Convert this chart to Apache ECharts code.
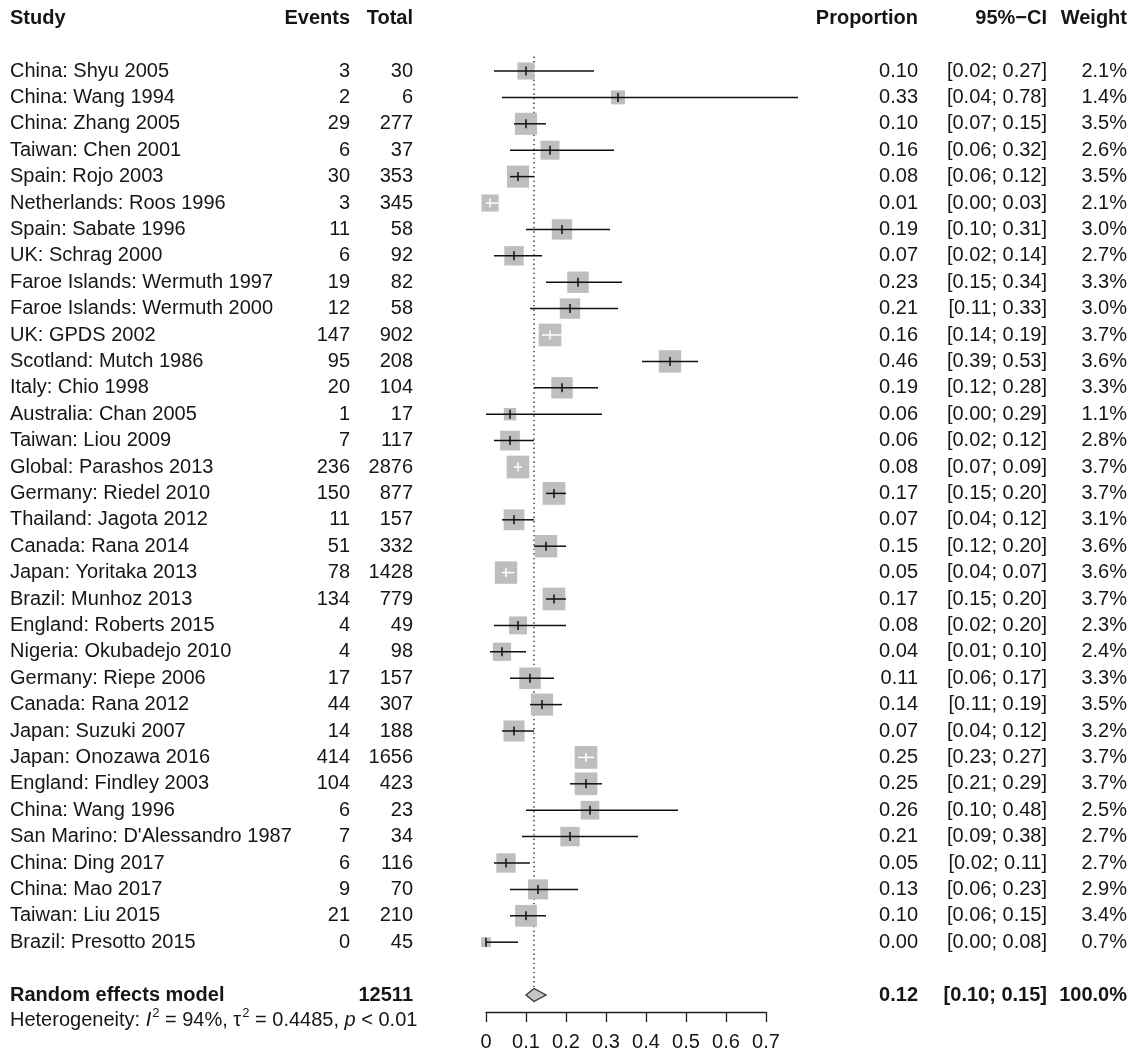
<!DOCTYPE html>
<html>
<head>
<meta charset="utf-8">
<script src="https://cdn.jsdelivr.net/npm/echarts@6/dist/echarts.min.js"></script>
<style>
  html, body { margin: 0; padding: 0; background: #ffffff; }
  #chart { width: 1136px; height: 1061px; }
</style>
</head>
<body>
<div id="chart"></div>
<script>
// ---- Study data ----
const studies = [
  'China: Shyu 2005', 'China: Wang 1994', 'China: Zhang 2005', 'Taiwan: Chen 2001',
  'Spain: Rojo 2003', 'Netherlands: Roos 1996', 'Spain: Sabate 1996', 'UK: Schrag 2000',
  'Faroe Islands: Wermuth 1997', 'Faroe Islands: Wermuth 2000', 'UK: GPDS 2002',
  'Scotland: Mutch 1986', 'Italy: Chio 1998', 'Australia: Chan 2005', 'Taiwan: Liou 2009',
  'Global: Parashos 2013', 'Germany: Riedel 2010', 'Thailand: Jagota 2012', 'Canada: Rana 2014',
  'Japan: Yoritaka 2013', 'Brazil: Munhoz 2013', 'England: Roberts 2015', 'Nigeria: Okubadejo 2010',
  'Germany: Riepe 2006', 'Canada: Rana 2012', 'Japan: Suzuki 2007', 'Japan: Onozawa 2016',
  'England: Findley 2003', 'China: Wang 1996', "San Marino: D'Alessandro 1987", 'China: Ding 2017',
  'China: Mao 2017', 'Taiwan: Liu 2015', 'Brazil: Presotto 2015'
];
const events = [3, 2, 29, 6, 30, 3, 11, 6, 19, 12, 147, 95, 20, 1, 7, 236, 150, 11, 51, 78,
  134, 4, 4, 17, 44, 14, 414, 104, 6, 7, 6, 9, 21, 0];
const totals = [30, 6, 277, 37, 353, 345, 58, 92, 82, 58, 902, 208, 104, 17, 117, 2876, 877, 157,
  332, 1428, 779, 49, 98, 157, 307, 188, 1656, 423, 23, 34, 116, 70, 210, 45];
const proportions = [0.10, 0.33, 0.10, 0.16, 0.08, 0.01, 0.19, 0.07, 0.23, 0.21, 0.16, 0.46, 0.19,
  0.06, 0.06, 0.08, 0.17, 0.07, 0.15, 0.05, 0.17, 0.08, 0.04, 0.11, 0.14, 0.07, 0.25, 0.25, 0.26,
  0.21, 0.05, 0.13, 0.10, 0.00];
const ciLower = [0.02, 0.04, 0.07, 0.06, 0.06, 0.00, 0.10, 0.02, 0.15, 0.11, 0.14, 0.39, 0.12,
  0.00, 0.02, 0.07, 0.15, 0.04, 0.12, 0.04, 0.15, 0.02, 0.01, 0.06, 0.11, 0.04, 0.23, 0.21, 0.10,
  0.09, 0.02, 0.06, 0.06, 0.00];
const ciUpper = [0.27, 0.78, 0.15, 0.32, 0.12, 0.03, 0.31, 0.14, 0.34, 0.33, 0.19, 0.53, 0.28,
  0.29, 0.12, 0.09, 0.20, 0.12, 0.20, 0.07, 0.20, 0.20, 0.10, 0.17, 0.19, 0.12, 0.27, 0.29, 0.48,
  0.38, 0.11, 0.23, 0.15, 0.08];
const weights = [2.1, 1.4, 3.5, 2.6, 3.5, 2.1, 3.0, 2.7, 3.3, 3.0, 3.7, 3.6, 3.3, 1.1, 2.8, 3.7,
  3.7, 3.1, 3.6, 3.6, 3.7, 2.3, 2.4, 3.3, 3.5, 3.2, 3.7, 3.7, 2.5, 2.7, 2.7, 2.9, 3.4, 0.7];

// Pooled (random effects) result
const pooledLabel = 'Random effects model';
const pooledTotal = 12511;
const pooledEst = 0.12;
const pooledLower = 0.10;
const pooledUpper = 0.15;
const pooledWeight = '100.0%';

// Axis ticks
const xTicks = [0, 0.1, 0.2, 0.3, 0.4, 0.5, 0.6, 0.7];

// Studies whose whisker sits inside its square and is drawn in white
const whiteWhiskers = ['Netherlands: Roos 1996', 'UK: GPDS 2002', 'Global: Parashos 2013',
  'Japan: Yoritaka 2013', 'Japan: Onozawa 2016'];

// ---- Layout ----
const FONT = "'Liberation Sans', Arial, sans-serif";
const FS = 20;          // table body
const FS_HEAD = 20;     // bold headings
const FS_AXIS = 20;
const TEXT = '#161616';
const SQUARE = '#bebebe';
const ROW_H = 26.4;
const Y_MIN = -1.5, Y_MAX = 36.65;
const GRID_TOP = 71 - (1 - Y_MIN) * ROW_H;
const GRID_H = (Y_MAX - Y_MIN) * ROW_H;
const POOLED_ROW = studies.length + 2;
const HET_ROW = POOLED_ROW + 0.9;
const HEADER_ROW = -1;

const COL = { study: 10, events: 350, total: 413, prop: 918, ci: 1047, weight: 1127 };

const fmt2 = v => v.toFixed(2);

const chart = echarts.init(document.getElementById('chart'), null, { renderer: 'canvas' });

function txt(x, y, s, align, bold, size) {
  return {
    type: 'text',
    style: {
      x: x, y: y, text: s, fill: TEXT,
      font: (bold ? 'bold ' : '') + (size || FS) + 'px ' + FONT,
      align: align, verticalAlign: 'middle'
    }
  };
}

const rowData = studies.map((s, i) => [i + 1, i]);

const option = {
  animation: false,
  backgroundColor: '#ffffff',
  grid: { left: 486, width: 280, top: GRID_TOP, height: GRID_H },
  xAxis: {
    type: 'value', min: xTicks[0], max: xTicks[xTicks.length - 1], interval: 0.1, position: 'bottom',
    axisLine: { show: true, onZero: false, lineStyle: { color: '#222', width: 1.3 } },
    axisTick: { show: true, length: 10, lineStyle: { color: '#222', width: 1.3 } },
    axisLabel: {
      color: TEXT, fontSize: FS_AXIS, fontFamily: FONT, margin: 20,
      formatter: v => (v === 0 ? '0' : v.toFixed(1))
    },
    splitLine: { show: false }
  },
  yAxis: { type: 'value', inverse: true, min: Y_MIN, max: Y_MAX, show: false },
  series: [
    // dotted reference line at the pooled estimate
    {
      type: 'custom', clip: false, silent: true,
      data: [[pooledEst, 0.45, 35.72]],
      renderItem: (params, api) => {
        const a = api.coord([api.value(0), api.value(1)]);
        const b = api.coord([api.value(0), api.value(2)]);
        return {
          type: 'line',
          shape: { x1: a[0], y1: a[1], x2: b[0], y2: b[1] },
          style: { stroke: '#333', lineWidth: 1.4, lineDash: [1.4, 3.2] }
        };
      }
    },
    // study squares and confidence intervals
    {
      type: 'custom', clip: false, silent: true,
      data: studies.map((s, i) => [i + 1, proportions[i], ciLower[i], ciUpper[i], weights[i]]),
      renderItem: (params, api) => {
        const i = params.dataIndex;
        const row = api.value(0);
        const c = api.coord([api.value(1), row]);
        const lo = api.coord([api.value(2), row]);
        const hi = api.coord([api.value(3), row]);
        const side = 11.8 * Math.sqrt(api.value(4));
        const ink = whiteWhiskers.includes(studies[i]) ? '#ffffff' : '#111111';
        return {
          type: 'group',
          children: [
            { type: 'rect', shape: { x: c[0] - side / 2, y: c[1] - side / 2, width: side, height: side },
              style: { fill: SQUARE } },
            { type: 'line', shape: { x1: lo[0], y1: c[1], x2: hi[0], y2: c[1] },
              style: { stroke: ink, lineWidth: 1.5 } },
            { type: 'line', shape: { x1: c[0], y1: c[1] - 4.5, x2: c[0], y2: c[1] + 4.5 },
              style: { stroke: ink, lineWidth: 1.5 } }
          ]
        };
      }
    },
    // pooled diamond
    {
      type: 'custom', clip: false, silent: true,
      data: [[POOLED_ROW, pooledEst, pooledLower, pooledUpper]],
      renderItem: (params, api) => {
        const row = api.value(0);
        const c = api.coord([api.value(1), row]);
        const lo = api.coord([api.value(2), row]);
        const hi = api.coord([api.value(3), row]);
        const h = 6.5;
        return {
          type: 'polygon',
          shape: { points: [[lo[0], c[1]], [c[0], c[1] - h], [hi[0], c[1]], [c[0], c[1] + h]] },
          style: { fill: '#c4c4c4', stroke: '#333', lineWidth: 1.3 }
        };
      }
    },
    // table columns
    {
      type: 'custom', clip: false, silent: true,
      data: rowData,
      renderItem: (params, api) => {
        const i = api.value(1);
        const y = api.coord([0, api.value(0)])[1];
        return {
          type: 'group',
          children: [
            txt(COL.study, y, studies[i], 'left'),
            txt(COL.events, y, String(events[i]), 'right'),
            txt(COL.total, y, String(totals[i]), 'right'),
            txt(COL.prop, y, fmt2(proportions[i]), 'right'),
            txt(COL.ci, y, '[' + fmt2(ciLower[i]) + '; ' + fmt2(ciUpper[i]) + ']', 'right'),
            txt(COL.weight, y, weights[i].toFixed(1) + '%', 'right')
          ]
        };
      }
    },
    // header, pooled row and heterogeneity line
    {
      type: 'custom', clip: false, silent: true,
      data: [[HEADER_ROW, POOLED_ROW, HET_ROW]],
      renderItem: (params, api) => {
        const yh = api.coord([0, api.value(0)])[1];
        const yp = api.coord([0, api.value(1)])[1];
        const yt = api.coord([0, api.value(2)])[1];
        return {
          type: 'group',
          children: [
            txt(COL.study, yh, 'Study', 'left', true, FS_HEAD),
            txt(COL.events, yh, 'Events', 'right', true, FS_HEAD),
            txt(COL.total, yh, 'Total', 'right', true, FS_HEAD),
            txt(COL.prop, yh, 'Proportion', 'right', true, FS_HEAD),
            txt(COL.ci, yh, '95%\u2212CI', 'right', true, FS_HEAD),
            txt(COL.weight, yh, 'Weight', 'right', true, FS_HEAD),
            txt(COL.study, yp, pooledLabel, 'left', true, FS_HEAD),
            txt(COL.total, yp, String(pooledTotal), 'right', true, FS_HEAD),
            txt(COL.prop, yp, fmt2(pooledEst), 'right', true, FS_HEAD),
            txt(COL.ci, yp, '[' + fmt2(pooledLower) + '; ' + fmt2(pooledUpper) + ']', 'right', true, FS_HEAD),
            txt(COL.weight, yp, pooledWeight, 'right', true, FS_HEAD),
            {
              type: 'text',
              style: {
                x: COL.study, y: yt, align: 'left', verticalAlign: 'middle',
                text: '{n|Heterogeneity: }{i|I}{s|2}{n| = 94%, \u03c4}{s|2}{n| = 0.4485, }{i|p}{n| < 0.01}',
                rich: {
                  n: { fontSize: 20, fontFamily: FONT, fill: TEXT, lineHeight: 24, verticalAlign: 'bottom' },
                  i: { fontSize: 20, fontFamily: FONT, fill: TEXT, fontStyle: 'italic', lineHeight: 24, verticalAlign: 'bottom' },
                  s: { fontSize: 13, fontFamily: FONT, fill: TEXT, lineHeight: 24, verticalAlign: 'top', padding: [0, 0, 0, 1] }
                }
              }
            }
          ]
        };
      }
    }
  ]
};

chart.setOption(option);
</script>
</body>
</html>
